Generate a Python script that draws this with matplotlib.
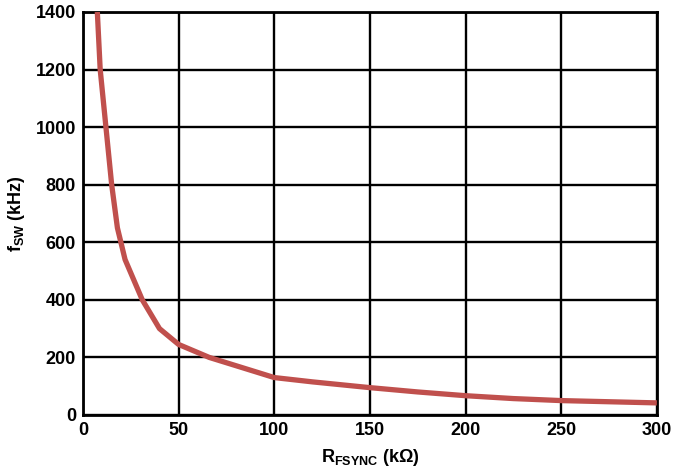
import matplotlib
matplotlib.use("Agg")
import matplotlib.pyplot as plt

r_fsync = [7.5, 9, 12, 15, 18, 22, 31, 40, 50, 66, 100, 120, 150, 175, 200, 225, 250, 300]
f_sw = [1400, 1200, 1000, 800, 650, 540, 400, 300, 245, 200, 130, 115, 95, 80, 67, 57, 50, 42]
x_ticks = [0, 50, 100, 150, 200, 250, 300]
y_ticks = [0, 200, 400, 600, 800, 1000, 1200, 1400]

plt.rcParams['font.family'] = ['Liberation Sans', 'DejaVu Sans']
plt.rcParams['font.weight'] = 'bold'
plt.rcParams['mathtext.fontset'] = 'custom'
plt.rcParams['mathtext.rm'] = 'Liberation Sans:bold'
plt.rcParams['mathtext.it'] = 'Liberation Sans:bold'
plt.rcParams['mathtext.bf'] = 'Liberation Sans:bold'

fig = plt.figure(figsize=(6.73, 4.72), dpi=100)
ax = fig.add_axes([0.1233, 0.1208, 0.8527, 0.8538])
ax.plot(r_fsync, f_sw, color='#C0504D', linewidth=3.8, solid_capstyle='butt', zorder=3)
ax.set_xlim(0, 300)
ax.set_ylim(0, 1400)
ax.set_xticks(x_ticks)
ax.set_yticks(y_ticks)
ax.grid(True, color='black', linewidth=1.7)
ax.tick_params(length=0, labelsize=13, pad=5)
for lbl in ax.get_xticklabels() + ax.get_yticklabels():
    lbl.set_fontweight('bold')
for s in ax.spines.values():
    s.set_linewidth(2.0)
    s.set_color('black')
ax.set_xlabel(r'$\mathrm{R_{FSYNC}}$ (k$\Omega$)', fontsize=13, fontweight='bold', labelpad=6)
ax.set_ylabel(r'$\mathrm{f_{SW}}$ (kHz)', fontsize=13, fontweight='bold', labelpad=6)
fig.savefig('out.png', dpi=100)
